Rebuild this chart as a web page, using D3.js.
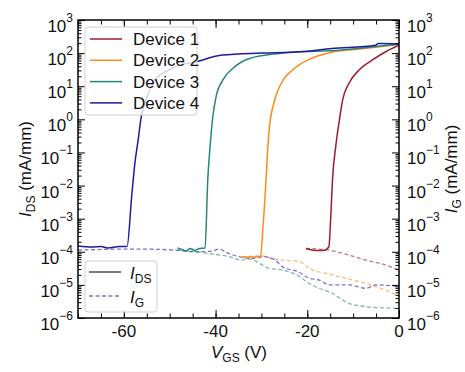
<!DOCTYPE html>
<html>
<head>
<meta charset="utf-8">
<script src="https://cdn.jsdelivr.net/npm/d3@7"></script>
<style>
  body { margin: 0; background: #fff; }
  svg { font-family: "Liberation Sans", Arial, sans-serif; }
</style>
</head>
<body>
<div id="chart"></div>
<script>
// transfer curves, [Vgs (V), current (mA/mm)]
let devices = ["Device 1", "Device 2", "Device 3", "Device 4"]
let colors = ["#9e1b2c", "#ff8a1c", "#24877c", "#1c1c9c"]

let ids1 = [[-20.3, 1.26e-4], [-18.1, 1.1e-4], [-16.5, 1.1e-4], [-15.3, 1.4e-4], [-14.85, 1.4e-3],
    [-14.5, 0.015], [-13.8, 0.15], [-13.0, 0.95], [-12.3, 3.8], [-10.9, 12.3], [-8.7, 31],
    [-5.8, 62], [-2.9, 110], [0, 174]]
let ids2 = [[-34.2, 7e-5], [-32, 7e-5], [-30.2, 7.2e-5], [-29.7, 4.6e-4], [-29.0, 0.015],
    [-28.6, 0.15], [-28.2, 0.7], [-27.5, 2.4], [-26.5, 7], [-25.2, 16], [-23.2, 31], [-21.7, 45],
    [-19.6, 65], [-14.5, 108], [-8, 135], [0, 186]]
let ids3 = [[-48.3, 1.3e-4], [-47.5, 1.2e-4], [-46.5, 1.05e-4], [-45.5, 1.25e-4], [-44.5, 1.1e-4],
    [-43.5, 1.25e-4], [-42.3, 1.3e-4], [-41.7, 0.015], [-41.2, 0.15], [-40.6, 1.2], [-39.9, 4.8],
    [-38.4, 15.5], [-36.2, 35], [-32.6, 69], [-26.1, 98], [-20, 112], [-13, 123], [-5, 158], [0, 186]]
let ids4 = [[-70, 1.5e-4], [-67, 1.4e-4], [-65, 1.45e-4], [-63.5, 1.3e-4], [-61, 1.45e-4],
    [-59.3, 1.45e-4], [-58.3, 4.6e-3], [-57.6, 0.047], [-56.9, 0.23], [-56.2, 1.2], [-55.4, 3.0],
    [-53.3, 15], [-50, 32], [-47.5, 45], [-45, 52], [-38.5, 87], [-30, 100], [-21.7, 110],
    [-14.6, 138], [-5.1, 174], [-4.5, 195], [0, 190]]

let ig1 = [[-20.3, 1.26e-4], [-15.2, 1.12e-4], [-10.9, 7.9e-5], [-7.2, 5.6e-5], [-3, 4e-5], [0, 2.8e-5]]
let ig2 = [[-34.2, 7e-5], [-30, 7.6e-5], [-28, 6.3e-5], [-25.4, 5.6e-5], [-21.7, 5e-5],
    [-19.6, 3.2e-5], [-14.5, 2e-5], [-7.2, 1.1e-5], [-3, 7e-6], [0, 4.4e-6]]
let ig3 = [[-48.3, 1.12e-4], [-44, 1.0e-4], [-41.5, 8.9e-5], [-37, 7.1e-5], [-34.2, 5.6e-5],
    [-32.6, 6e-5], [-28.4, 3.2e-5], [-25.4, 2.8e-5], [-21.7, 1.8e-5], [-19.6, 1.1e-5],
    [-14.5, 5.5e-6], [-10.9, 2.75e-6], [-7.2, 2.2e-6], [-3, 2e-6], [0, 1.95e-6]]
let ig4 = [[-70, 1.12e-4], [-60, 1.2e-4], [-56, 1.2e-4], [-48.7, 1.12e-4], [-44.3, 1.0e-4],
    [-40.7, 1.05e-4], [-39.3, 1.2e-4], [-37.1, 8.9e-5], [-34.9, 7.1e-5], [-32, 6.3e-5],
    [-29.5, 7.1e-5], [-27, 5.6e-5], [-25.4, 3.5e-5], [-22, 2.5e-5], [-19.6, 1.6e-5],
    [-17.4, 1.4e-5], [-15.2, 1e-5], [-10.9, 1e-5], [-7.2, 7.9e-6], [-5.1, 1e-5], [0, 8.9e-6]]

let idsAll = [ids1, ids2, ids3, ids4]
let igAll = [ig1, ig2, ig3, ig4]

let xTicks = [-60, -40, -20, 0]
let xMinor = d3.range(-70, 1, 5)
let yExps = [-6, -5, -4, -3, -2, -1, 0, 1, 2, 3]

let W = 465, H = 372
let mLeft = 78, mRight = 399, mTop = 20, mBottom = 318

let svg = d3.select('#chart').append('svg')
    .attr('width', W)
    .attr('height', H)

let x = d3.scaleLinear().domain([-70, 0]).range([mLeft, mRight])
let y = d3.scaleLog().domain([1e-6, 1e3]).range([mBottom, mTop])

svg.append('clipPath').attr('id', 'clip')
    .append('rect')
    .attr('x', mLeft).attr('y', mTop)
    .attr('width', mRight - mLeft).attr('height', mBottom - mTop)

let plot = svg.append('g').attr('clip-path', 'url(#clip)')

let line = d3.line()
    .x(function (d) { return x(d[0]) })
    .y(function (d) { return y(d[1]) })
    .curve(d3.curveMonotoneX)

// gate currents (dashed, light) under drain currents
igAll.forEach(function (data, i) {
    plot.append('path')
        .datum(data)
        .attr('d', line)
        .attr('fill', 'none')
        .attr('stroke', colors[i])
        .attr('stroke-opacity', 0.6)
        .attr('stroke-width', 1.3)
        .attr('stroke-dasharray', '4,2.5')
})

idsAll.forEach(function (data, i) {
    plot.append('path')
        .datum(data)
        .attr('d', line)
        .attr('fill', 'none')
        .attr('stroke', colors[i])
        .attr('stroke-width', 1.5)
})

// minor decade ticks
let yMinor = []
yExps.slice(0, -1).forEach(function (e) {
    for (let k = 2; k < 10; k++) yMinor.push(k * Math.pow(10, e))
})
let yMajor = yExps.map(function (e) { return Math.pow(10, e) })

function addAxis(axis, tr) {
    let g = svg.append('g').attr('transform', tr).call(axis)
    g.select('.domain').remove()
    g.selectAll('line').attr('stroke', '#000').attr('stroke-width', 1)
    return g
}

addAxis(d3.axisLeft(y).tickValues(yMinor).tickSize(-3.5).tickFormat(''), `translate(${mLeft},0)`)
addAxis(d3.axisLeft(y).tickValues(yMajor).tickSize(-7).tickFormat(''), `translate(${mLeft},0)`)
addAxis(d3.axisRight(y).tickValues(yMinor).tickSize(-3.5).tickFormat(''), `translate(${mRight},0)`)
addAxis(d3.axisRight(y).tickValues(yMajor).tickSize(-7).tickFormat(''), `translate(${mRight},0)`)
addAxis(d3.axisBottom(x).tickValues(xMinor).tickSize(-4.5).tickFormat(''), `translate(0,${mBottom})`)
addAxis(d3.axisBottom(x).tickValues(xTicks).tickSize(-8).tickFormat(''), `translate(0,${mBottom})`)
addAxis(d3.axisTop(x).tickValues(xMinor).tickSize(-4.5).tickFormat(''), `translate(0,${mTop})`)
addAxis(d3.axisTop(x).tickValues(xTicks).tickSize(-8).tickFormat(''), `translate(0,${mTop})`)

svg.append('rect')
    .attr('x', mLeft).attr('y', mTop)
    .attr('width', mRight - mLeft).attr('height', mBottom - mTop)
    .attr('fill', 'none')
    .attr('stroke', '#000')
    .attr('stroke-width', 1.5)

// y tick labels 10^n on both sides
function powLabels(xPos, anchor) {
    let t = svg.append('g').selectAll('text')
        .data(yExps)
        .enter()
        .append('text')
        .attr('x', xPos)
        .attr('y', function (d) { return y(Math.pow(10, d)) + 12 })
        .attr('text-anchor', anchor)
        .attr('font-size', 17)
        .attr('fill', '#111')
    t.append('tspan').text('10')
    t.append('tspan')
        .attr('dy', -10)
        .attr('font-size', 12)
        .text(function (d) { return d < 0 ? '\u2212' + (-d) : d })
}
powLabels(mLeft - 5, 'end')
powLabels(mRight + 8, 'start')

svg.append('g').selectAll('text')
    .data(xTicks)
    .enter()
    .append('text')
    .attr('x', function (d) { return x(d) })
    .attr('y', mBottom + 19)
    .attr('text-anchor', 'middle')
    .attr('font-size', 17)
    .attr('fill', '#111')
    .text(function (d) { return d })

// axis titles
function title(txt, sub, rest, tr) {
    let t = svg.append('text')
        .attr('transform', tr)
        .attr('text-anchor', 'middle')
        .attr('font-size', 17)
        .attr('fill', '#111')
    t.append('tspan').attr('font-style', 'italic').text(txt)
    t.append('tspan').attr('font-size', 12).attr('dy', 4).text(sub)
    t.append('tspan').attr('dy', -4).text(rest)
}
title('V', 'GS', ' (V)', 'translate(239,358)')
title('I', 'DS', ' (mA/mm)', 'translate(31,169) rotate(-90)')
title('I', 'G', ' (mA/mm)', 'translate(457,169) rotate(-90)')

// device legend
let leg = svg.append('g')
leg.append('rect')
    .attr('x', 85).attr('y', 27)
    .attr('width', 112).attr('height', 88)
    .attr('rx', 3)
    .attr('fill', '#fff').attr('fill-opacity', 0.8)
    .attr('stroke', '#cfcfcf')
let rows = leg.selectAll('g.row')
    .data(devices)
    .enter()
    .append('g')
    .attr('transform', function (d, i) { return `translate(0,${39 + i * 21.3})` })
rows.append('line')
    .attr('x1', 90).attr('x2', 122)
    .attr('stroke', function (d, i) { return colors[i] })
    .attr('stroke-width', 1.5)
rows.append('text')
    .attr('x', 133).attr('y', 6)
    .attr('font-size', 17)
    .attr('fill', '#111')
    .text(function (d) { return d })

// line style legend
let leg2 = svg.append('g')
leg2.append('rect')
    .attr('x', 85).attr('y', 261)
    .attr('width', 72).attr('height', 51)
    .attr('rx', 3)
    .attr('fill', '#fff').attr('fill-opacity', 0.8)
    .attr('stroke', '#cfcfcf')
leg2.append('line')
    .attr('x1', 89).attr('x2', 121).attr('y1', 272).attr('y2', 272)
    .attr('stroke', '#333').attr('stroke-width', 1.3)
leg2.append('line')
    .attr('x1', 89).attr('x2', 121).attr('y1', 296).attr('y2', 296)
    .attr('stroke', '#7a7aa8').attr('stroke-width', 1.3)
    .attr('stroke-dasharray', '4,2.5')
let styles = [['DS', 279], ['G', 303]]
styles.forEach(function (s) {
    let t = leg2.append('text')
        .attr('x', 130).attr('y', s[1])
        .attr('font-size', 17)
        .attr('fill', '#111')
    t.append('tspan').attr('font-style', 'italic').text('I')
    t.append('tspan').attr('font-size', 12).attr('dy', 4).text(s[0])
})
</script>
</body>
</html>
